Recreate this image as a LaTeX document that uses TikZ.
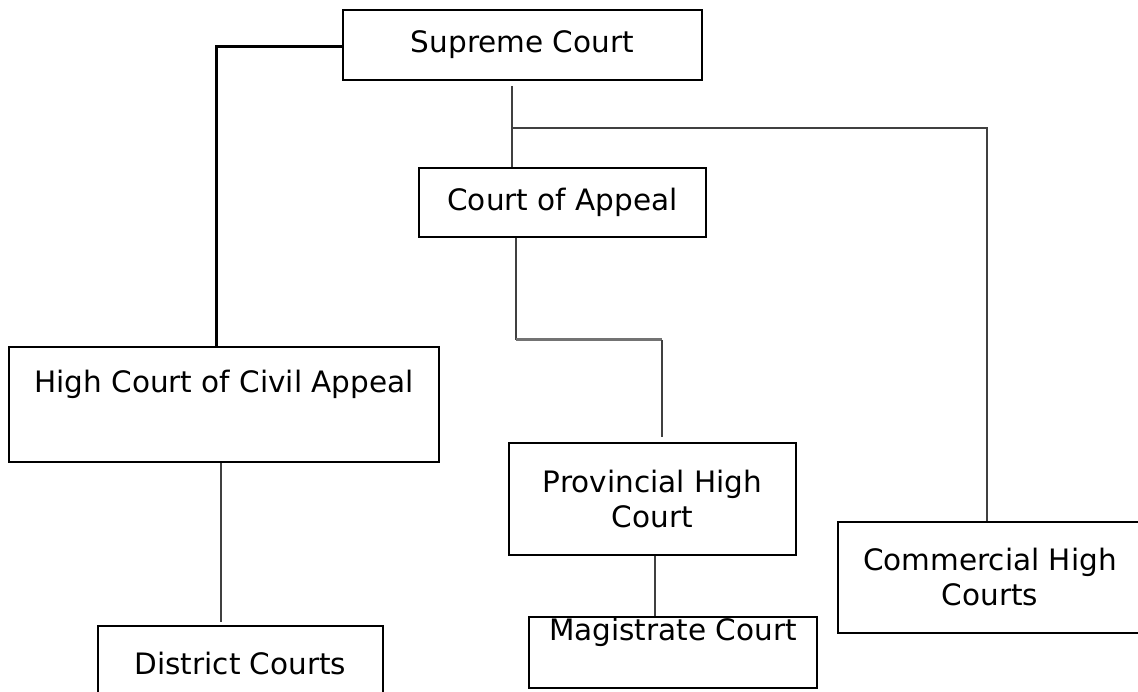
\documentclass[tikz,border=0pt]{standalone}
\usepackage{fontspec}
\setmainfont{DejaVu Sans}
\usetikzlibrary{positioning}

\begin{document}
\begin{tikzpicture}[
    x=1pt, y=-1pt,
    box/.style={rectangle, draw, line width=1.8pt, inner sep=0pt, align=center, font=\fontsize{29.5}{35}\selectfont},
    link/.style={line width=1.3pt, draw=black!75},
    heavy/.style={line width=3pt},
    greylink/.style={line width=3pt, draw=black!55}
]
    \useasboundingbox (0,0) rectangle (1138,692);

    % Top level
    \node[box, minimum width=359pt, minimum height=70pt] (sc) at (522.5,45) {Supreme Court};
    \node[box, minimum width=287pt, minimum height=69pt] (ca) at (562.5,202.5) {Court of Appeal};

    % Middle level
    \node[box, minimum width=430pt, minimum height=115pt] (hc) at (224,404.5) {High Court of Civil Appeal\\ \strut};
    \node[box, minimum width=287pt, minimum height=112pt] (ph) at (652.5,499) {Provincial High\\Court};
    \node[box, minimum width=304pt, minimum height=111pt] (cm) at (990,577.5) {Commercial High\\Courts};

    % Lower level
    \node[box, minimum width=285pt, minimum height=74pt] (dc) at (240.5,663) {District Courts};
    \node[box, minimum width=288pt, minimum height=71pt] (mc) at (673,652.5) {Magistrate Court\\ \strut};

    % Junctions
    \coordinate (j1) at (512,128);
    \coordinate (j2) at (987,128);
    \coordinate (j3) at (516,340);
    \coordinate (j4) at (662,340);
    \coordinate (j5) at (216,47);

    \draw[heavy] (sc.west |- j5) -- (j5) -- (j5 |- hc.north);
    \draw[link, shorten <=5pt] (j1 |- sc.south) -- (j1 |- ca.north);
    \draw[link] (j1) -- (j2) -- (j2 |- cm.north);
    \draw[link] (j3 |- ca.south) -- (j3);
    \draw[greylink] (j3) -- (j4);
    \draw[link, shorten >=5pt] (j4) -- (j4 |- ph.north);
    \draw[link, shorten >=3pt] (221,0 |- hc.south) -- (221,0 |- dc.north);
    \draw[link] (655,0 |- ph.south) -- (655,0 |- mc.north);
\end{tikzpicture}
\end{document}
